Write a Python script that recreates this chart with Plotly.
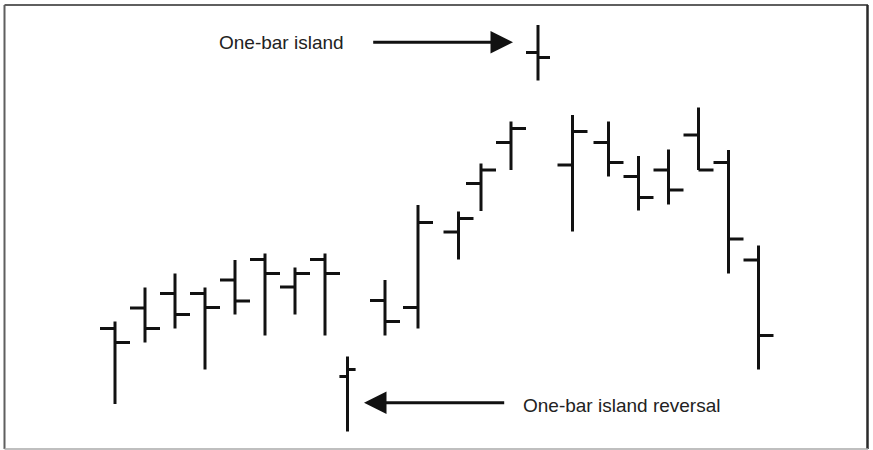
import plotly.graph_objects as go

W, H = 873, 450

# ---- data (trading-day position, open, high, low, close) ----
day = [0, 1, 2, 3, 4, 5, 6, 7, 7.75, 9, 10.1, 11.45, 12.2, 13.2, 14.1,
       15.25, 16.45, 17.45, 18.45, 19.45, 20.45, 21.45]
open_ = [24.3, 28.4, 31.3, 31.3, 34.0, 38.1, 32.6, 38.1, 14.7, 29.9, 28.5,
         43.6, 53.3, 61.5, 79.5, 57.0, 61.5, 54.7, 56.0, 63.0, 57.5, 38.0]
high = [25.7, 32.5, 35.3, 32.5, 38.0, 39.3, 36.5, 39.3, 18.7, 34.0, 49.0,
        47.7, 57.3, 65.7, 85.0, 67.0, 65.7, 58.8, 60.1, 68.5, 60.0, 40.9]
low = [9.2, 21.5, 24.3, 16.1, 27.1, 22.9, 27.1, 22.9, 3.7, 22.9, 24.3,
       38.1, 47.8, 56.0, 73.9, 43.7, 54.7, 47.9, 49.1, 56.0, 35.3, 16.1]
close = [21.5, 24.3, 27.1, 28.5, 29.8, 35.3, 35.3, 35.3, 16.1, 25.7, 45.5,
         46.3, 56.0, 64.3, 78.5, 63.7, 57.5, 50.5, 52.0, 56.0, 42.2, 22.9]

labels = ["One-bar island", "One-bar island reversal"]

# ---- styles ----
TICK = 0.5                     # tick length in day units
TICK_OVERRIDE = {8: 0.27, 14: 0.4}
BAR_COLOR = "#111111"

xs, ys = [], []
for i, (d, o, h, l, c) in enumerate(zip(day, open_, high, low, close)):
    t = TICK_OVERRIDE.get(i, TICK)
    xs += [d, d, None, d - t, d, None, d, d + t, None]
    ys += [l, h, None, o, o, None, c, c, None]

fig = go.Figure()
fig.add_trace(go.Scatter(x=xs, y=ys, mode="lines",
                         line=dict(color=BAR_COLOR, width=3),
                         hoverinfo="skip", showlegend=False))

def px_x(p):
    return p / W

def px_y(p):
    return 1 - p / H

font = dict(family="Liberation Sans, Arial, sans-serif", size=19, color="#222222")

annotations = [
    dict(text=labels[0], x=px_x(281), y=px_y(42), xref="paper", yref="paper",
         showarrow=False, font=font, xanchor="center", yanchor="middle"),
    dict(text=labels[1], x=px_x(621), y=px_y(405), xref="paper", yref="paper",
         showarrow=False, font=font, xanchor="center", yanchor="middle"),
    dict(text="", x=px_x(513), y=px_y(42.3), xref="paper", yref="paper",
         showarrow=True, ax=371.7 - 513, ay=0, arrowhead=2, arrowsize=1.5,
         arrowwidth=3, arrowcolor="#111111"),
    dict(text="", x=px_x(364), y=px_y(402.7), xref="paper", yref="paper",
         showarrow=True, ax=505.7 - 364, ay=0, arrowhead=2, arrowsize=1.5,
         arrowwidth=3, arrowcolor="#111111"),
]

shapes = [
    dict(type="line", xref="paper", yref="paper", x0=px_x(4.5), x1=px_x(868),
         y0=px_y(5), y1=px_y(5), line=dict(color="#5f5f5f", width=2)),
    dict(type="line", xref="paper", yref="paper", x0=px_x(4.5), x1=px_x(4.5),
         y0=px_y(5), y1=px_y(449), line=dict(color="#5f5f5f", width=2)),
    dict(type="line", xref="paper", yref="paper", x0=px_x(867.5), x1=px_x(867.5),
         y0=px_y(5), y1=px_y(449), line=dict(color="#2a2a2a", width=2.5)),
    dict(type="line", xref="paper", yref="paper", x0=px_x(4.5), x1=px_x(868),
         y0=px_y(449), y1=px_y(449), line=dict(color="#aaaaaa", width=1.5)),
]

fig.update_layout(
    width=W, height=H,
    margin=dict(l=0, r=0, t=0, b=0),
    paper_bgcolor="white", plot_bgcolor="white",
    xaxis=dict(range=[-115 / 30, (W - 115) / 30], visible=False, fixedrange=True),
    yaxis=dict(range=[0, 90], visible=False, fixedrange=True),
    annotations=annotations,
    shapes=shapes,
    showlegend=False,
)

fig.write_html(
    "out.html",
    config={"displayModeBar": False},
    post_script="document.body.style.margin='0';document.body.style.overflow='hidden';",
)
